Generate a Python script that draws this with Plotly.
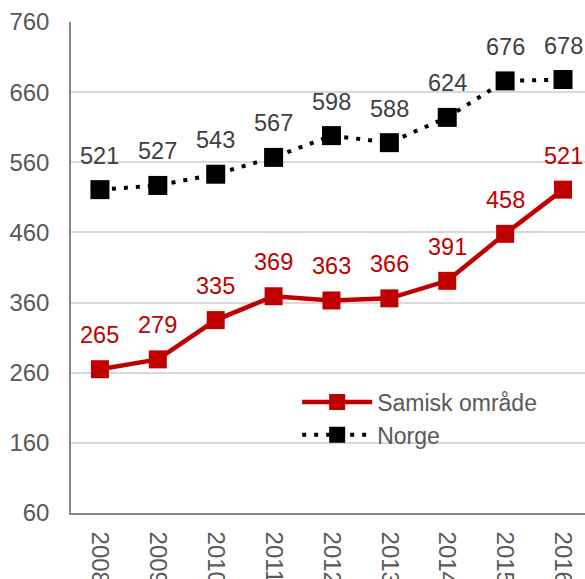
import plotly.graph_objects as go

years = ["2008", "2009", "2010", "2011", "2012", "2013", "2014", "2015", "2016"]
samisk = [265, 279, 335, 369, 363, 366, 391, 458, 521]
norge = [521, 527, 543, 567, 598, 588, 624, 676, 678]
y_ticks = [60, 160, 260, 360, 460, 560, 660, 760]

RED = "#C00000"
GREY_TXT = "#595959"
FONT = "Liberation Sans, Arial, sans-serif"

fig = go.Figure()

fig.add_trace(go.Scatter(
    x=years, y=samisk, name="Samisk område", mode="lines+markers",
    line=dict(color=RED, width=4.5),
    marker=dict(symbol="square", size=18, color=RED),
))
fig.add_trace(go.Scatter(
    x=years, y=norge, name="Norge", mode="lines+markers",
    line=dict(color="black", width=4, dash="4px,8px"),
    marker=dict(symbol="square", size=19, color="black"),
))

# value labels above each point (category index used as x position)
for ys, col in [(samisk, RED), (norge, "#404040")]:
    for i, yv in enumerate(ys):
        fig.add_annotation(
            x=i, y=yv, xref="x", yref="y", text=str(yv), showarrow=False,
            yshift=34, font=dict(family=FONT, size=23.5, color=col),
        )

fig.update_layout(
    width=585, height=579,
    margin=dict(l=71, r=0, t=22, b=66, autoexpand=False),
    paper_bgcolor="white", plot_bgcolor="white",
    font=dict(family=FONT, size=23, color=GREY_TXT),
    showlegend=True,
    legend=dict(
        x=0.44, y=0.27, xanchor="left", yanchor="top",
        bgcolor="rgba(0,0,0,0)", itemwidth=70,
        font=dict(family=FONT, size=23, color=GREY_TXT),
        tracegroupgap=0,
    ),
    xaxis=dict(
        type="category", range=[-0.5, 8.38],
        tickangle=90, showgrid=False, ticks="",
        ticklabelstandoff=12, automargin=False,
        showline=True, linecolor="#868686", linewidth=1.5,
        tickfont=dict(family=FONT, size=24, color=GREY_TXT),
    ),
    yaxis=dict(
        range=[60, 760], tickvals=y_ticks,
        showgrid=True, gridcolor="#D9D9D9", gridwidth=1.5,
        showline=True, linecolor="#868686", linewidth=1.5,
        ticks="", ticklabelstandoff=15, zeroline=False, automargin=False,
        tickfont=dict(family=FONT, size=24, color=GREY_TXT),
    ),
)

fig.write_html("out.html")
